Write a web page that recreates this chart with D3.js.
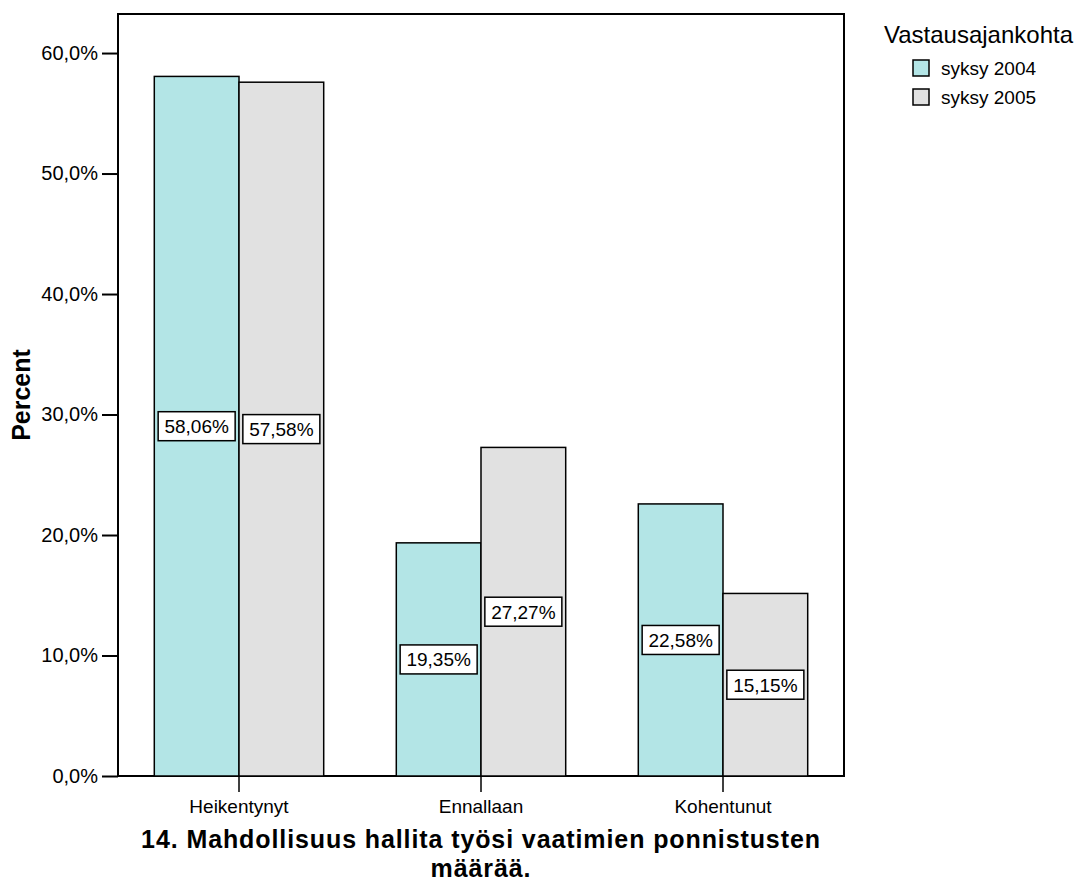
<!DOCTYPE html>
<html>
<head>
<meta charset="utf-8">
<script src="https://cdn.jsdelivr.net/npm/d3@7"></script>
<style>
  body { margin: 0; background: #fff; }
  text { font-family: Arial, "Liberation Sans", sans-serif; fill: #000; }
</style>
</head>
<body>
<div id="chart"></div>
<script>
var categories = ["Heikentynyt", "Ennallaan", "Kohentunut"];
var seriesNames = ["syksy 2004", "syksy 2005"];
var values2004 = [58.06, 19.35, 22.58];
var values2005 = [57.58, 27.27, 15.15];
var yTicks = [0, 10, 20, 30, 40, 50, 60];
var colors = ["#b3e5e6", "#e1e1e1"];

var margin = {top: 14, right: 232, bottom: 106, left: 118},
    width = 1076 - margin.left - margin.right,
    height = 882 - margin.top - margin.bottom;

var svg = d3.select("#chart")
  .append("svg")
    .attr("width", 1076)
    .attr("height", 882)
  .append("g")
    .attr("transform", "translate(" + margin.left + "," + margin.top + ")");

var fmt = function(v, d) { return v.toFixed(d).replace(".", ","); };

var x = d3.scaleBand()
  .domain(categories)
  .range([0, width])
  .paddingInner(0.3)
  .paddingOuter(0.15);

var xs = d3.scaleBand()
  .domain(seriesNames)
  .range([0, x.bandwidth()]);

var y = d3.scaleLinear()
  .domain([0, 63.24])
  .range([height, 0]);

// frame
svg.append("rect")
  .attr("width", width)
  .attr("height", height)
  .attr("fill", "none")
  .attr("stroke", "#000")
  .attr("stroke-width", 2);

var data = categories.map(function(c, i) {
  return {cat: c, vals: [values2004[i], values2005[i]]};
});

var groups = svg.selectAll(".grp")
  .data(data)
  .enter()
  .append("g")
    .attr("class", "grp")
    .attr("transform", function(d) { return "translate(" + x(d.cat) + ",0)"; });

var bars = groups.selectAll(".bar")
  .data(function(d) { return d.vals.map(function(v, j) { return {s: seriesNames[j], v: v, j: j}; }); })
  .enter();

bars.append("rect")
  .attr("class", "bar")
  .attr("x", function(d) { return xs(d.s); })
  .attr("y", function(d) { return y(d.v); })
  .attr("width", xs.bandwidth())
  .attr("height", function(d) { return height - y(d.v); })
  .attr("fill", function(d) { return colors[d.j]; })
  .attr("stroke", "#000")
  .attr("stroke-width", 1.5);

// value labels
var lab = bars.append("g")
  .attr("transform", function(d) {
    return "translate(" + (xs(d.s) + xs.bandwidth() / 2) + "," + ((y(d.v) + height) / 2) + ")";
  });

lab.append("rect")
  .attr("x", -38.5)
  .attr("y", -14.5)
  .attr("width", 77)
  .attr("height", 29)
  .attr("fill", "#fff")
  .attr("stroke", "#000")
  .attr("stroke-width", 1.5);

lab.append("text")
  .attr("text-anchor", "middle")
  .attr("dy", "0.36em")
  .style("font-size", "19px")
  .text(function(d) { return fmt(d.v, 2) + "%"; });

// y axis
var yAxis = svg.append("g")
  .call(d3.axisLeft(y).tickValues(yTicks).tickSize(16).tickPadding(4)
    .tickFormat(function(d) { return fmt(d, 1) + "%"; }));
yAxis.select(".domain").remove();
yAxis.selectAll("line").attr("stroke", "#000").attr("stroke-width", 2);
yAxis.selectAll("text").style("font-size", "20px").attr("font-family", null);

// x axis
var xAxis = svg.append("g")
  .attr("transform", "translate(0," + height + ")")
  .call(d3.axisBottom(x).tickSize(16).tickPadding(8));
xAxis.select(".domain").remove();
xAxis.selectAll("line").attr("stroke", "#000").attr("stroke-width", 1.5);
xAxis.selectAll("text").style("font-size", "19px").attr("font-family", null);

// axis titles
svg.append("text")
  .attr("transform", "translate(" + (-88) + "," + (395 - margin.top) + ") rotate(-90)")
  .attr("text-anchor", "middle")
  .style("font-size", "25px")
  .style("font-weight", "bold")
  .text("Percent");

var title = svg.append("text")
  .attr("text-anchor", "middle")
  .style("font-size", "25px")
  .style("font-weight", "bold")
  .style("letter-spacing", "0.9px");
title.append("tspan").attr("x", width / 2).attr("y", 848 - margin.top)
  .text("14. Mahdollisuus hallita työsi vaatimien ponnistusten");
title.append("tspan").attr("x", width / 2).attr("y", 877 - margin.top)
  .text("määrää.");

// legend
var legend = svg.append("g")
  .attr("transform", "translate(" + (width + 40) + ",0)");

legend.append("text")
  .attr("x", 0)
  .attr("y", 43 - margin.top)
  .style("font-size", "24px")
  .text("Vastausajankohta");

var items = legend.selectAll(".item")
  .data(seriesNames)
  .enter()
  .append("g")
    .attr("class", "item")
    .attr("transform", function(d, i) { return "translate(29," + (60 - margin.top + i * 29) + ")"; });

items.append("rect")
  .attr("width", 16)
  .attr("height", 16)
  .attr("fill", function(d, i) { return colors[i]; })
  .attr("stroke", "#000")
  .attr("stroke-width", 1.5);

items.append("text")
  .attr("x", 28)
  .attr("y", 15)
  .style("font-size", "19px")
  .text(function(d) { return d; });
</script>
</body>
</html>
